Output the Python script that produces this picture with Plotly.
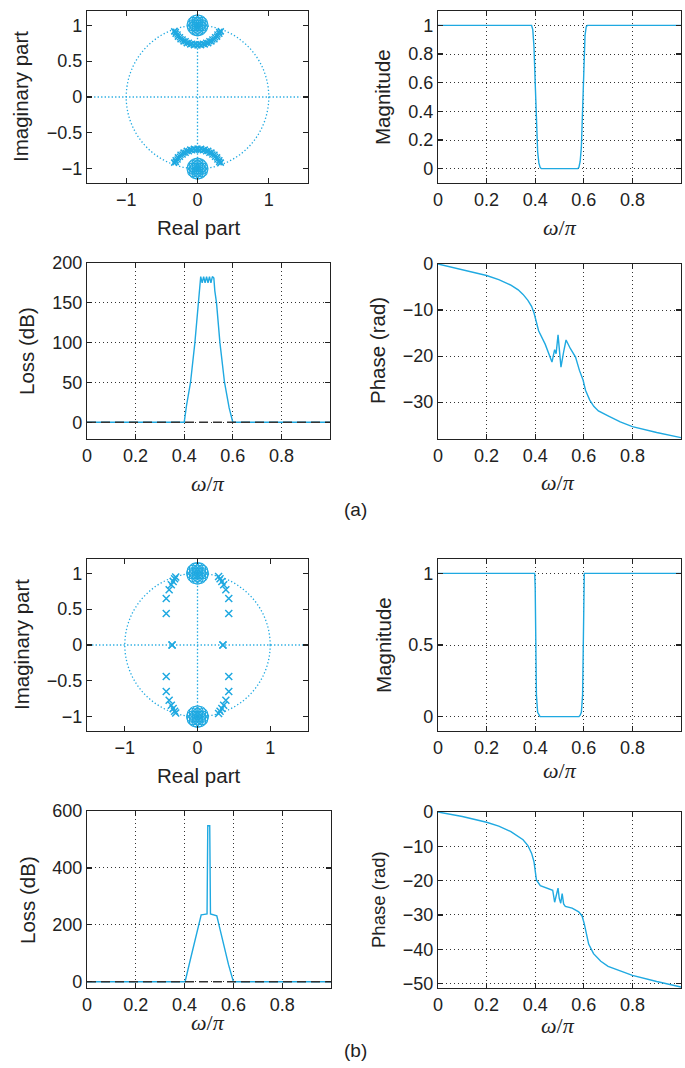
import plotly.graph_objects as go

W, H = 685, 1068
BLUE = "#1fa9e1"
INK = "#222222"

# ---------------- (a) pole-zero ----------------
zeros_a_re = [0.0, 0.07, 0.061, 0.035, 0.0, -0.035, -0.061, -0.07, -0.061, -0.035, 0.0, 0.035, 0.061,
              0.035, 0.0, -0.035, 0.0]
zeros_a_im = [1.0, 1.0, 1.035, 1.061, 1.07, 1.061, 1.035, 1.0, 0.965, 0.939, 0.93, 0.939, 0.965,
              1.0, 1.035, 1.0, 0.965]
poles_a_re = [-0.3267, -0.3067, -0.275, -0.238, -0.196, -0.1505, -0.102, -0.0515, 0.0,
              0.0515, 0.102, 0.1505, 0.196, 0.238, 0.275, 0.3067, 0.3267,
              -0.3043, -0.2797, -0.2466, -0.2087, -0.1667, -0.1214, -0.0738, -0.0248,
              0.0248, 0.0738, 0.1214, 0.1667, 0.2087, 0.2466, 0.2797, 0.3043]
poles_a_im = [0.916, 0.883, 0.8424, 0.8066, 0.776, 0.752, 0.7343, 0.7236, 0.72,
              0.7236, 0.7343, 0.752, 0.776, 0.8066, 0.8424, 0.883, 0.916,
              0.907, 0.871, 0.835, 0.803, 0.777, 0.756, 0.743, 0.736,
              0.736, 0.743, 0.756, 0.777, 0.803, 0.835, 0.871, 0.907]

# ---------------- (a) magnitude ----------------
mag_a_w = [0, 0.385, 0.39, 0.395, 0.40, 0.405, 0.41, 0.415, 0.42, 0.425, 0.5,
           0.575, 0.58, 0.585, 0.59, 0.595, 0.60, 0.605, 0.61, 0.615, 0.8, 1.0]
mag_a = [1, 1, 0.97, 0.85, 0.6, 0.3, 0.12, 0.04, 0.01, 0, 0,
         0, 0.01, 0.05, 0.15, 0.4, 0.75, 0.93, 0.99, 1, 1, 1]

# ---------------- (a) loss ----------------
loss_a_w = [0, 0.2, 0.4, 0.41, 0.426, 0.444, 0.46, 0.464, 0.468, 0.474, 0.48, 0.486,
            0.492, 0.498, 0.504, 0.51, 0.516, 0.522, 0.526, 0.533, 0.547, 0.566, 0.585,
            0.6, 0.8, 1.0]
loss_a = [0, 0, 0, 22, 50, 100, 150, 170, 183, 175, 183, 175,
          183, 175, 183, 175, 183, 181, 165, 150, 100, 50, 18,
          0, 0, 0]

# ---------------- (a) phase ----------------
ph_a_w = [0, 0.1, 0.2, 0.25, 0.3, 0.33, 0.35, 0.37, 0.385, 0.395, 0.403, 0.414, 0.441, 0.469,
          0.48, 0.486, 0.494, 0.499, 0.506, 0.517, 0.527, 0.545, 0.566, 0.582, 0.597,
          0.607, 0.624, 0.641, 0.66, 0.7, 0.75, 0.8, 0.9, 1.0]
ph_a = [0, -1.2, -2.5, -3.4, -4.6, -5.6, -6.6, -7.9, -9.2, -10.6, -12.5, -14.5, -17.4, -21.3,
        -18.6, -19.5, -15.4, -18.6, -22.4, -19.1, -16.5, -18.4, -20.2, -23.1, -25.2,
        -27.4, -29.5, -30.9, -31.9, -33.0, -34.3, -35.3, -36.6, -37.7]

# ---------------- (b) pole-zero ----------------
zeros_b_re = [0.0, 0.075, 0.065, 0.0375, 0.0, -0.0375, -0.065, -0.075, -0.065, -0.0375, 0.0, 0.0375, 0.065,
              0.037, 0.0, -0.037, 0.0]
zeros_b_im = [1.0, 1.0, 1.0375, 1.065, 1.075, 1.065, 1.0375, 1.0, 0.9625, 0.935, 0.925, 0.935, 0.9625,
              1.0, 1.037, 1.0, 0.963]
poles_b_re = [-0.35, 0.35, -0.43, 0.43, -0.43, 0.43, -0.39, 0.39, -0.36, 0.36,
              -0.335, 0.335, -0.315, 0.31, -0.30, 0.29]
poles_b_im = [0.0, 0.0, 0.44, 0.44, 0.65, 0.65, 0.77, 0.77, 0.84, 0.84,
              0.885, 0.885, 0.925, 0.925, 0.95, 0.955]

# ---------------- (b) magnitude ----------------
mag_b_w = [0, 0.398, 0.40, 0.402, 0.405, 0.41, 0.415, 0.42, 0.5, 0.58, 0.585, 0.59,
           0.595, 0.598, 0.60, 0.602, 0.8, 1.0]
mag_b = [1, 1, 0.9, 0.5, 0.15, 0.03, 0.01, 0, 0, 0, 0.01, 0.03,
         0.15, 0.5, 0.9, 1, 1, 1]

# ---------------- (b) loss ----------------
loss_b_w = [0, 0.2, 0.4, 0.402, 0.42, 0.44, 0.46, 0.468, 0.475, 0.485, 0.492, 0.495,
            0.503, 0.506, 0.515, 0.525, 0.532, 0.545, 0.56, 0.58, 0.6, 0.8, 1.0]
loss_b = [0, 0, 0, 0, 65, 135, 205, 235, 236, 236, 238, 548,
          548, 238, 236, 236, 232, 185, 130, 60, 0, 0, 0]

# ---------------- (b) phase ----------------
ph_b_w = [0, 0.1, 0.2, 0.25, 0.3, 0.33, 0.35, 0.37, 0.385, 0.395, 0.4, 0.405, 0.421, 0.455,
          0.472, 0.48, 0.489, 0.494, 0.499, 0.505, 0.511, 0.517, 0.524, 0.552, 0.579,
          0.593, 0.602, 0.61, 0.62, 0.64, 0.67, 0.7, 0.75, 0.8, 0.9, 1.0]
ph_b = [0, -1.3, -3.0, -4.1, -5.7, -7.0, -8.1, -9.8, -12.0, -14.5, -17.0, -19.8, -21.5, -22.4,
        -22.8, -26.3, -23.3, -22.2, -25.2, -26.6, -23.8, -26.8, -27.5, -28.0, -29.1,
        -30.3, -32.6, -35.4, -38.5, -41.3, -43.5, -45.0, -46.4, -47.6, -49.4, -51.0]

loss_ref_w = [0, 1]
loss_ref_db = [0, 0]

unit_circle = [-1, -1, 1, 1]
real_axis = [-1.45, 1.45]
imag_axis = [-1, 1]

fig = go.Figure()

def line(x, y, ax, color=BLUE, width=1.4, dash="solid"):
    fig.add_trace(go.Scatter(x=x, y=y, mode="lines", xaxis="x" + ax, yaxis="y" + ax,
                             line=dict(color=color, width=width, dash=dash),
                             hoverinfo="skip"))

GUIDE = dict(color=BLUE, width=1.3, dash="1.3px,2.2px")

def pz(zr, zi, pr, pi_, ax, psize):
    xr = "x" + ax
    yr = "y" + ax
    fig.add_shape(type="circle", xref=xr, yref=yr, x0=unit_circle[0], y0=unit_circle[1],
                  x1=unit_circle[2], y1=unit_circle[3], line=GUIDE, layer="below")
    fig.add_shape(type="line", xref=xr, yref=yr, x0=real_axis[0], y0=0, x1=real_axis[1], y1=0,
                  line=GUIDE, layer="below")
    fig.add_shape(type="line", xref=xr, yref=yr, x0=0, y0=imag_axis[0], x1=0, y1=imag_axis[1],
                  line=GUIDE, layer="below")
    fig.add_trace(go.Scatter(x=zr + zr, y=zi + [-v for v in zi], mode="markers",
                             xaxis=xr, yaxis=yr, hoverinfo="skip",
                             marker=dict(symbol="circle-open", size=11, color=BLUE,
                                         line=dict(width=1.1, color=BLUE))))
    fig.add_trace(go.Scatter(x=pr + pr, y=pi_ + [-v for v in pi_], mode="markers",
                             xaxis=xr, yaxis=yr, hoverinfo="skip",
                             marker=dict(symbol="x-thin-open", size=psize, color=BLUE,
                                         line=dict(width=1.5, color=BLUE))))

pz(zeros_a_re, zeros_a_im, poles_a_re, poles_a_im, "", 6)
line(mag_a_w, mag_a, "2")
line(loss_a_w, loss_a, "3")
line(loss_ref_w, loss_ref_db, "3", color="#333333", width=1.5, dash="9px,5px")
line(ph_a_w, ph_a, "4")
pz(zeros_b_re, zeros_b_im, poles_b_re, poles_b_im, "5", 7)
line(mag_b_w, mag_b, "6")
line(loss_b_w, loss_b, "7")
line(loss_ref_w, loss_ref_db, "7", color="#333333", width=1.5, dash="9px,5px")
line(ph_b_w, ph_b, "8")

def dom_x(a, b):
    return [a / W, b / W]

def dom_y(top, bot):
    return [1 - bot / H, 1 - top / H]

base = dict(showline=True, linecolor=INK, linewidth=1.2, mirror="ticks", ticks="inside",
            ticklen=5, tickcolor=INK, tickwidth=1.2, automargin=False,
            tickfont=dict(family="Liberation Sans", size=18, color=INK),
            zeroline=False, gridcolor="#333333", griddash="1.3px,2.7px", gridwidth=1,
            fixedrange=True)

wt = [0, 0.2, 0.4, 0.6, 0.8]
axes = {
    "": dict(xd=dom_x(87, 308), yd=dom_y(11, 183), xr=[-1.55, 1.55], yr=[-1.2, 1.2],
             xt=[-1, 0, 1], yt=[-1, -0.5, 0, 0.5, 1], grid=False),
    "2": dict(xd=dom_x(438, 681), yd=dom_y(11, 183), xr=[0, 1], yr=[-0.1, 1.1],
              xt=wt, yt=[0, 0.2, 0.4, 0.6, 0.8, 1], grid=True),
    "3": dict(xd=dom_x(87, 330), yd=dom_y(263, 439), xr=[0, 1], yr=[-21, 200],
              xt=wt, yt=[0, 50, 100, 150, 200], grid=True),
    "4": dict(xd=dom_x(438, 681), yd=dom_y(264, 439), xr=[0, 1], yr=[-38, 0],
              xt=wt, yt=[-30, -20, -10, 0], grid=True),
    "5": dict(xd=dom_x(87, 308), yd=dom_y(559, 731), xr=[-1.52, 1.52], yr=[-1.2, 1.2],
              xt=[-1, 0, 1], yt=[-1, -0.5, 0, 0.5, 1], grid=False),
    "6": dict(xd=dom_x(438, 681), yd=dom_y(559, 731), xr=[0, 1], yr=[-0.1, 1.1],
              xt=wt, yt=[0, 0.5, 1], grid=True),
    "7": dict(xd=dom_x(87, 331), yd=dom_y(811, 988), xr=[0, 1], yr=[-22, 600],
              xt=wt, yt=[0, 200, 400, 600], grid=True),
    "8": dict(xd=dom_x(438, 681), yd=dom_y(812, 988), xr=[0, 1], yr=[-51.3, 0],
              xt=wt, yt=[-50, -40, -30, -20, -10, 0], grid=True),
}

lay = {}
for k, a in axes.items():
    xa = dict(base, domain=a["xd"], range=a["xr"], tickvals=a["xt"], showgrid=a["grid"],
              anchor="y" + k)
    ya = dict(base, domain=a["yd"], range=a["yr"], tickvals=a["yt"], showgrid=a["grid"],
              anchor="x" + k)
    lay["xaxis" + k] = xa
    lay["yaxis" + k] = ya

SANS = "Liberation Sans"
SERIF = "Liberation Serif"
W_PI = "<i>ω</i>/<i>π</i>"

def ann(text, x, y, size=20.5, rot=0, fam=SANS):
    return dict(text=text, x=x / W, y=1 - y / H, xref="paper", yref="paper",
                showarrow=False, textangle=rot, xanchor="center", yanchor="middle",
                font=dict(family=fam, size=size, color=INK))

annotations = [
    ann("Imaginary part", 21, 97, rot=-90),
    ann("Real part", 198, 228),
    ann("Magnitude", 383, 97, rot=-90),
    ann(W_PI, 560, 228, size=22, fam=SERIF),
    ann("Loss (dB)", 27, 351, rot=-90),
    ann(W_PI, 208, 483, size=22, fam=SERIF),
    ann("Phase (rad)", 378, 351, rot=-90),
    ann(W_PI, 558, 482, size=22, fam=SERIF),
    ann("(a)", 355, 510, size=19),
    ann("Imaginary part", 21, 645, rot=-90),
    ann("Real part", 198, 775),
    ann("Magnitude", 383, 645, rot=-90),
    ann(W_PI, 560, 770, size=22, fam=SERIF),
    ann("Loss (dB)", 27, 900, rot=-90),
    ann(W_PI, 208, 1022, size=22, fam=SERIF),
    ann("Phase (rad)", 378, 900, size=18.5, rot=-90),
    ann(W_PI, 558, 1025, size=22, fam=SERIF),
    ann("(b)", 355, 1050, size=19),
]

fig.update_layout(width=W, height=H, margin=dict(l=0, r=0, t=0, b=0, autoexpand=False),
                  paper_bgcolor="white", plot_bgcolor="white", showlegend=False,
                  annotations=annotations, **lay)

fig.write_html("out.html", config={"displayModeBar": False, "staticPlot": True},
               post_script="document.body.style.margin='0';document.body.style.overflow='hidden';")
